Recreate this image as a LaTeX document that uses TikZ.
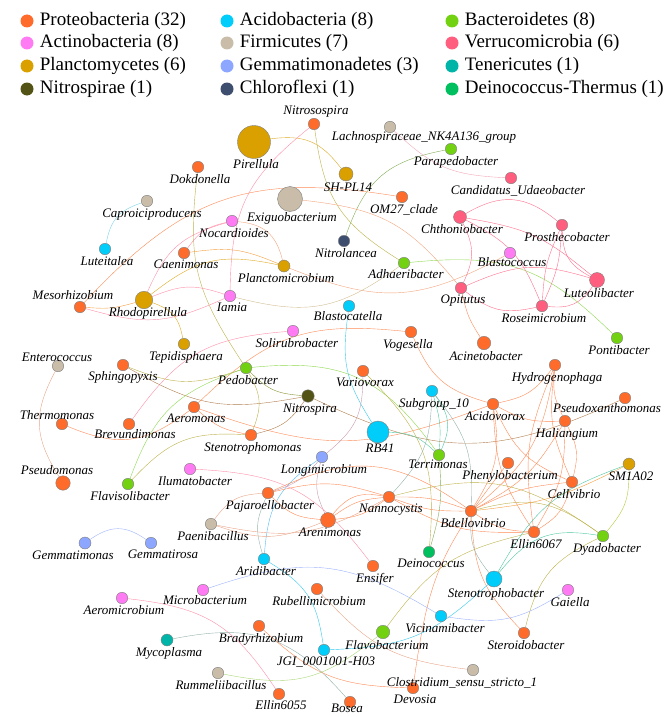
\documentclass[tikz,border=0pt]{standalone}
\usepackage{fontspec}
\setmainfont{Liberation Serif}
\usetikzlibrary{positioning,backgrounds}

% phylum colours
\definecolor{cPro}{HTML}{FF6B2B}
\definecolor{cAct}{HTML}{FF7BF3}
\definecolor{cPla}{HTML}{D9A000}
\definecolor{cNit}{HTML}{535316}
\definecolor{cAci}{HTML}{00CDFA}
\definecolor{cFir}{HTML}{C9BCA8}
\definecolor{cGem}{HTML}{8DA6FF}
\definecolor{cChl}{HTML}{3E4E6E}
\definecolor{cBac}{HTML}{72D211}
\definecolor{cVer}{HTML}{FF5E7E}
\definecolor{cTen}{HTML}{00B5A8}
\definecolor{cDei}{HTML}{00BF5F}
% edge colours
\definecolor{eOr}{HTML}{FF8A55}
\definecolor{eOl}{HTML}{BDB24A}
\definecolor{eOlD}{HTML}{8C9338}
\definecolor{eGd}{HTML}{DDAA22}
\definecolor{eGr}{HTML}{8ED84E}
\definecolor{eGrD}{HTML}{80AC55}
\definecolor{eGrL}{HTML}{A9D676}
\definecolor{eCy}{HTML}{33C8F0}
\definecolor{eCyF}{HTML}{7ED3E6}
\definecolor{eCyB}{HTML}{55BBF5}
\definecolor{eBr}{HTML}{B07D4E}
\definecolor{eTl}{HTML}{4CC8A0}
\definecolor{eGy}{HTML}{95B3AC}
\definecolor{eMv}{HTML}{C99AAD}
\definecolor{eTan}{HTML}{E9A589}
\definecolor{eLb}{HTML}{9DB2FF}
\definecolor{eSal}{HTML}{F3A57E}
\definecolor{eKh}{HTML}{D2BE92}
\definecolor{eOrG}{HTML}{F5A040}
\definecolor{ePkO}{HTML}{FF8FA8}
\definecolor{ePkL}{HTML}{F2A8B8}
\definecolor{eVe}{HTML}{FF6E8C}
\definecolor{eYg}{HTML}{B5C83A}

\begin{document}
\begin{tikzpicture}[x=1pt,y=-1pt]
  \tikzstyle{taxon}=[circle,draw=black!50,line width=0.4pt,inner sep=0pt,minimum size=11.5pt]
  \tikzstyle{lbl}=[font=\fontsize{13}{14}\selectfont\itshape,inner sep=1pt,xshift=2pt]
  \tikzstyle{legdot}=[circle,inner sep=0pt,minimum size=13pt]
  \tikzstyle{legtxt}=[font=\fontsize{19}{21}\selectfont,inner sep=1pt]
  \tikzstyle{link}=[line width=0.75pt,looseness=1.15]

  \useasboundingbox (0,0) rectangle (666,717);

  % legend
  \node[legdot,fill=cPro] (legPro) at (27,21) {};
  \node[legtxt,right=5pt of legPro] (legProT) {Proteobacteria (32)};
  \node[legdot,fill=cAct] (legAct) at (27,43) {};
  \node[legtxt,right=5pt of legAct] (legActT) {Actinobacteria (8)};
  \node[legdot,fill=cPla] (legPla) at (27,66) {};
  \node[legtxt,right=5pt of legPla] (legPlaT) {Planctomycetes (6)};
  \node[legdot,fill=cNit] (legNit) at (27,89) {};
  \node[legtxt,right=5pt of legNit] (legNitT) {Nitrospirae (1)};
  \node[legdot,fill=cAci] (legAci) at (227,21) {};
  \node[legtxt,right=5pt of legAci] (legAciT) {Acidobacteria (8)};
  \node[legdot,fill=cFir] (legFir) at (227,43) {};
  \node[legtxt,right=5pt of legFir] (legFirT) {Firmicutes (7)};
  \node[legdot,fill=cGem] (legGem) at (227,66) {};
  \node[legtxt,right=5pt of legGem] (legGemT) {Gemmatimonadetes (3)};
  \node[legdot,fill=cChl] (legChl) at (227,89) {};
  \node[legtxt,right=5pt of legChl] (legChlT) {Chloroflexi (1)};
  \node[legdot,fill=cBac] (legBac) at (452,21) {};
  \node[legtxt,right=5pt of legBac] (legBacT) {Bacteroidetes (8)};
  \node[legdot,fill=cVer] (legVer) at (452,43) {};
  \node[legtxt,right=5pt of legVer] (legVerT) {Verrucomicrobia (6)};
  \node[legdot,fill=cTen] (legTen) at (452,66) {};
  \node[legtxt,right=5pt of legTen] (legTenT) {Tenericutes (1)};
  \node[legdot,fill=cDei] (legDei) at (452,89) {};
  \node[legtxt,right=5pt of legDei] (legDeiT) {Deinococcus-Thermus (1)};

  % Proteobacteria
  \node[taxon,fill=cPro,label={[lbl]below:Dokdonella}] (Dok) at (198,167) {};
  \node[taxon,fill=cPro,label={[lbl]below:Caenimonas}] (Caen) at (184,253) {};
  \node[taxon,fill=cPro,label={[lbl,xshift=-9pt]above:Mesorhizobium}] (Meso) at (80,307) {};
  \node[taxon,fill=cPro,label={[lbl]above:Nitrosospira}] (Nitroso) at (314,124) {};
  \node[taxon,fill=cPro,label={[lbl]below:OM27\_clade}] (OM27) at (402,197) {};
  \node[taxon,fill=cPro,minimum size=13.5pt,label={[lbl]below:Acinetobacter}] (Acin) at (484,343) {};
  \node[taxon,fill=cPro,label={[lbl]below:Hydrogenophaga}] (Hydro) at (555,365) {};
  \node[taxon,fill=cPro,label={[lbl]below:Acidovorax}] (Acid) at (493,404) {};
  \node[taxon,fill=cPro,label={[lbl,xshift=-20pt,yshift=2pt]below:Pseudoxanthomonas}] (Pseudox) at (625,398) {};
  \node[taxon,fill=cPro,label={[lbl]below:Haliangium}] (Hal) at (565,421) {};
  \node[taxon,fill=cPro,label={[lbl]below:Phenylobacterium}] (Phen) at (508,463) {};
  \node[taxon,fill=cPro,label={[lbl]below:Cellvibrio}] (Cell) at (572,482) {};
  \node[taxon,fill=cPro,label={[lbl,xshift=-5pt]below:Vogesella}] (Voges) at (411,332) {};
  \node[taxon,fill=cPro,label={[lbl]below:Variovorax}] (Vario) at (363,371) {};
  \node[taxon,fill=cPro,label={[lbl]below:Stenotrophomonas}] (StenoM) at (251,435) {};
  \node[taxon,fill=cPro,label={[lbl]below:Pajaroellobacter}] (Paja) at (268,493) {};
  \node[taxon,fill=cPro,label={[lbl]below:Nannocystis}] (Nanno) at (389,497) {};
  \node[taxon,fill=cPro,label={[lbl,xshift=-2pt,yshift=1pt]below:Sphingopyxis}] (Sphing) at (123,365) {};
  \node[taxon,fill=cPro,label={[lbl]below:Aeromonas}] (Aero) at (194,407) {};
  \node[taxon,fill=cPro,label={[lbl,xshift=-7pt,yshift=-3pt]above:Thermomonas}] (Thermo) at (62,424) {};
  \node[taxon,fill=cPro,label={[lbl,xshift=4pt,yshift=2pt]below:Brevundimonas}] (Brev) at (129,424) {};
  \node[taxon,fill=cPro,minimum size=14.5pt,label={[lbl,xshift=-8pt]above:Pseudomonas}] (Pseudom) at (63,483) {};
  \node[taxon,fill=cPro,minimum size=15pt,label={[lbl,yshift=1pt]below:Arenimonas}] (Aren) at (328,520) {};
  \node[taxon,fill=cPro,label={[lbl]below:Ensifer}] (Ensif) at (373,566) {};
  \node[taxon,fill=cPro,label={[lbl]below:Rubellimicrobium}] (Rubel) at (317,589) {};
  \node[taxon,fill=cPro,label={[lbl]below:Bradyrhizobium}] (Brady) at (259,626) {};
  \node[taxon,fill=cPro,label={[lbl,yshift=1pt]below:Ellin6055}] (E55) at (279,694) {};
  \node[taxon,fill=cPro,label={[lbl,xshift=-5pt,yshift=5pt]below:Bosea}] (Bosea) at (350,702) {};
  \node[taxon,fill=cPro,label={[lbl]below:Devosia}] (Devo) at (413,688) {};
  \node[taxon,fill=cPro,label={[lbl]below:Bdellovibrio}] (Bdel) at (471,511) {};
  \node[taxon,fill=cPro,label={[lbl]below:Ellin6067}] (E67) at (534,532) {};
  \node[taxon,fill=cPro,label={[lbl]below:Steroidobacter}] (Ster) at (524,633) {};

  % Actinobacteria
  \node[taxon,fill=cAct,label={[lbl]below:Nocardioides}] (Nocar) at (232,221) {};
  \node[taxon,fill=cAct,label={[lbl]below:Iamia}] (Iamia) at (230,296) {};
  \node[taxon,fill=cAct,label={[lbl,yshift=3pt]below:Blastococcus}] (Blastoc) at (510,253) {};
  \node[taxon,fill=cAct,label={[lbl,xshift=2pt]below:Solirubrobacter}] (Soli) at (293,331) {};
  \node[taxon,fill=cAct,label={[lbl,xshift=3pt]below:Ilumatobacter}] (Ilum) at (190,469) {};
  \node[taxon,fill=cAct,label={[lbl,yshift=2pt]below:Microbacterium}] (Micro) at (203,590) {};
  \node[taxon,fill=cAct,label={[lbl]below:Aeromicrobium}] (Aeromi) at (122,598) {};
  \node[taxon,fill=cAct,label={[lbl]below:Gaiella}] (Gaiel) at (568,590) {};

  % Planctomycetes
  \node[taxon,fill=cPla,minimum size=33pt,label={[lbl]below:Pirellula}] (Pir) at (254,142) {};
  \node[taxon,fill=cPla,minimum size=14pt,label={[lbl]below:SH-PL14}] (SHP) at (346,174) {};
  \node[taxon,fill=cPla,minimum size=17.5pt,label={[lbl,xshift=2pt,yshift=3pt]below:Rhodopirellula}] (Rhodo) at (144,300) {};
  \node[taxon,fill=cPla,minimum size=12pt,label={[lbl]below:Planctomicrobium}] (Planc) at (284,266) {};
  \node[taxon,fill=cPla,label={[lbl]below:Tepidisphaera}] (Tepid) at (184,344) {};
  \node[taxon,fill=cPla,minimum size=12pt,label={[lbl]below:SM1A02}] (SM1) at (629,464) {};

  % Nitrospirae
  \node[taxon,fill=cNit,minimum size=12.5pt,label={[lbl]below:Nitrospira}] (Nitrosp) at (308,396) {};

  % Acidobacteria
  \node[taxon,fill=cAci,label={[lbl]below:Luteitalea}] (Lut) at (105,249) {};
  \node[taxon,fill=cAci,label={[lbl,xshift=-3pt,yshift=2pt]below:Blastocatella}] (Blastoca) at (349,306) {};
  \node[taxon,fill=cAci,label={[lbl]below:Subgroup\_10}] (Sub) at (432,391) {};
  \node[taxon,fill=cAci,minimum size=22pt,label={[lbl]below:RB41}] (RB) at (378,432) {};
  \node[taxon,fill=cAci,label={[lbl]below:Aridibacter}] (Arid) at (264,559) {};
  \node[taxon,fill=cAci,label={[lbl]below:JGI\_0001001-H03}] (JGI) at (324,650) {};
  \node[taxon,fill=cAci,label={[lbl,xshift=2pt]below:Vicinamibacter}] (Vicin) at (441,616) {};
  \node[taxon,fill=cAci,minimum size=16pt,label={[lbl]below:Stenotrophobacter}] (StenoB) at (494,579) {};

  % Firmicutes
  \node[taxon,fill=cFir,label={[lbl,xshift=3pt]below:Caproiciproducens}] (Capro) at (147,201) {};
  \node[taxon,fill=cFir,label={[lbl,xshift=32pt,yshift=3pt]below:Lachnospiraceae\_NK4A136\_group}] (Lachno) at (390,127) {};
  \node[taxon,fill=cFir,minimum size=25pt,label={[lbl]below:Exiguobacterium}] (Exig) at (290,199) {};
  \node[taxon,fill=cFir,label={[lbl,xshift=-3pt,yshift=-3pt]above:Enterococcus}] (Entero) at (58,366) {};
  \node[taxon,fill=cFir,label={[lbl]below:Paenibacillus}] (Paeni) at (211,524) {};
  \node[taxon,fill=cFir,label={[lbl,xshift=1pt]below:Rummeliibacillus}] (Rumm) at (218,673) {};
  \node[taxon,fill=cFir,label={[lbl,xshift=-13pt]below:Clostridium\_sensu\_stricto\_1}] (Clos) at (473,670) {};

  % Gemmatimonadetes
  \node[taxon,fill=cGem,minimum size=12pt,label={[lbl,xshift=-14pt]below:Gemmatimonas}] (Gmon) at (85,543) {};
  \node[taxon,fill=cGem,label={[lbl,xshift=10pt]below:Gemmatirosa}] (Grosa) at (151,543) {};
  \node[taxon,fill=cGem,label={[lbl]below:Longimicrobium}] (Longi) at (322,457) {};

  % Chloroflexi
  \node[taxon,fill=cChl,label={[lbl]below:Nitrolancea}] (Nitrol) at (344,241) {};

  % Bacteroidetes
  \node[taxon,fill=cBac,label={[lbl,xshift=3pt]below:Parapedobacter}] (Parap) at (451,149) {};
  \node[taxon,fill=cBac,label={[lbl,yshift=1pt]below:Adhaeribacter}] (Adh) at (404,263) {};
  \node[taxon,fill=cBac,label={[lbl]below:Pontibacter}] (Ponti) at (617,338) {};
  \node[taxon,fill=cBac,label={[lbl]below:Pedobacter}] (Ped) at (246,368) {};
  \node[taxon,fill=cBac,label={[lbl,xshift=-3pt,yshift=2pt]below:Terrimonas}] (Terri) at (439,455) {};
  \node[taxon,fill=cBac,label={[lbl]below:Flavisolibacter}] (Flavi) at (128,484) {};
  \node[taxon,fill=cBac,minimum size=13.5pt,label={[lbl,xshift=2pt]below:Flavobacterium}] (Flavo) at (383,632) {};
  \node[taxon,fill=cBac,label={[lbl,xshift=2pt]below:Dyadobacter}] (Dyad) at (603,536) {};

  % Verrucomicrobia
  \node[taxon,fill=cVer,minimum size=13pt,label={[lbl]below:Chthoniobacter}] (Chth) at (460,217) {};
  \node[taxon,fill=cVer,label={[lbl,xshift=3pt]below:Prosthecobacter}] (Prost) at (562,225) {};
  \node[taxon,fill=cVer,label={[lbl,xshift=5pt]below:Candidatus\_Udaeobacter}] (Cand) at (511,178) {};
  \node[taxon,fill=cVer,label={[lbl]below:Opitutus}] (Opit) at (461,288) {};
  \node[taxon,fill=cVer,minimum size=15pt,label={[lbl]below:Luteolibacter}] (Luteo) at (597,280) {};
  \node[taxon,fill=cVer,label={[lbl]below:Roseimicrobium}] (Rosei) at (542,306) {};

  % Tenericutes, Deinococcus-Thermus
  \node[taxon,fill=cTen,minimum size=12pt,label={[lbl]below:Mycoplasma}] (Myco) at (167,640) {};
  \node[taxon,fill=cDei,label={[lbl]below:Deinococcus}] (Deino) at (429,552) {};

  % co-occurrence links
  \begin{scope}[on background layer,link]
    \draw[eCyF] (Lut) to[bend left=30] (Capro);
    \draw[eOl] (Dok) to[bend right=20] (Ped);
    \draw[eGd] (Pir) to[bend left=30] (SHP);
    \draw[ePkO] (Nitroso) to[bend right=25] (Iamia);
    \draw[eOl] (Nitroso) to[bend right=25] (Adh);
    \draw[eGrD] (Nitrol) to[bend left=30] (Parap);
    \draw[ePkL] (Lachno) to[bend right=20] (Cand);
    \draw[eOr] (Meso) to[bend left=28] (OM27);
    \draw[eSal] (Exig) to[bend left=22] (Opit);
    \draw[eSal] (Planc) to[bend right=25] (Blastoc);
    \draw[eSal] (Nocar) to[bend left=35] (Planc);
    \draw[eOrG] (Caen) to[bend left=15] (Planc);
    \draw[eGd] (Rhodo) to[bend left=25] (Planc);
    \draw[eKh] (Iamia) to[bend right=25] (Adh);
    \draw[eGr] (Adh) to[bend left=25] (Ponti);
    % Verrucomicrobia cluster
    \draw[eVe] (Chth) to[bend left=35] (Prost);
    \draw[eVe] (Chth) to[bend left=15] (Luteo);
    \draw[eVe] (Chth) to[bend left=25] (Opit);
    \draw[eVe] (Chth) to[bend left=20] (Rosei);
    \draw[eVe] (Prost) to[bend right=30] (Luteo);
    \draw[eVe] (Prost) to[bend left=10] (Rosei);
    \draw[eVe] (Prost) to[bend right=10] (Rosei);
    \draw[eVe] (Opit) to[bend left=20] (Luteo);
    \draw[eVe] (Opit) to[bend right=25] (Rosei);
    \draw[eVe] (Rosei) to[bend right=30] (Luteo);
    \draw[eOr] (Acin) to[bend left=10] (Opit);
    % left part
    \draw[ePkO] (Caen) to[bend left=20] (Nocar);
    \draw[ePkO] (Rhodo) to[bend left=25] (Nocar);
    \draw[ePkO] (Rhodo) to[bend left=20] (Iamia);
    \draw[ePkO] (Meso) to[bend right=20] (Iamia);
    \draw[eOrG] (Meso) to[bend right=10] (Rhodo);
    \draw[eGd] (Rhodo) to[bend left=30] (Tepid);
    \draw[eTan] (Entero) to[bend right=30] (Pseudom);
    \draw[eOr] (Thermo) to[bend right=30] (Aero);
    \draw[ePkO] (Brev) to[bend left=25] (Soli);
    \draw[eBr] (Sphing) to[bend right=20] (Nitrosp);
    \draw[eOl] (Sphing) to[bend right=20] (Ped);
    \draw[eOr] (Aero) to[bend left=25] (Voges);
    \draw[eOr] (Aero) to[bend right=20] (Acid);
    \draw[eOr] (Aero) to[bend right=15] (StenoM);
    \draw[eGr] (Ped) to[bend left=30] (Terri);
    \draw[eOlD] (Ped) to[bend right=20] (Nitrosp);
    \draw[eOl] (Ped) to[bend left=25] (StenoM);
    \draw[eGr] (Flavi) to[bend left=25] (Ped);
    \draw[eOl] (Flavi) to[bend left=25] (StenoM);
    \draw[eBr] (Nitrosp) to[bend left=20] (StenoM);
    \draw[eBr] (Nitrosp) to[bend right=25] (Pseudox);
    % middle part
    \draw[eCy] (Blastoca) to[bend right=20] (RB);
    \draw[eMv] (Vario) to[bend left=25] (Longi);
    \draw[eOl] (Vario) to[bend left=25] (Deino);
    \draw[eTl] (RB) to[bend left=20] (Terri);
    \draw[eTl] (Sub) to[bend left=30] (Terri);
    \draw[eTl] (Sub) to[bend left=10] (Terri);
    \draw[eGy] (Nanno) to[bend right=20] (Sub);
    \draw[eGy] (Sub) to[bend left=20] (Bdel);
    \draw[eCyB] (Longi) to[bend right=25] (Arid);
    \draw[eMv] (Longi) to[bend right=20] (Aren);
    \draw[eMv] (Longi) to[bend left=15] (Paja);
    \draw[eOr] (Paja) to[bend left=30] (Bdel);
    \draw[eOr] (Paja) to[bend right=20] (Aren);
    \draw[eOr] (Paja) to[bend left=15] (Nanno);
    \draw[eGy] (Arid) to[bend left=20] (Paja);
    \draw[eOr] (Aren) to[bend left=15] (Nanno);
    \draw[eOr] (Aren) to[bend right=15] (Nanno);
    \draw[eOr] (Aren) to[bend left=30] (Nanno);
    \draw[eTan] (Paeni) to[bend left=25] (Paja);
    \draw[eTan] (Paeni) to[bend right=20] (Aren);
    \draw[eTan] (Paeni) to[bend right=20] (Nanno);
    \draw[eOr] (Nanno) to[bend left=10] (Bdel);
    \draw[eOr] (Nanno) to[bend right=10] (Bdel);
    \draw[eOl] (Nanno) to[bend left=25] (Dyad);
    \draw[eOr] (Nanno) to[bend right=15] (E67);
    % right part
    \draw[eOr] (Bdel) to[bend right=20] (Acid);
    \draw[eOr] (Bdel) to[bend right=15] (E67);
    \draw[eOr] (Bdel) to[bend left=10] (Cell);
    \draw[eOr] (Bdel) to[bend right=15] (Hal);
    \draw[eOr] (Bdel) to[bend right=20] (Hydro);
    \draw[eOl] (Bdel) to[bend left=25] (Dyad);
    \draw[eOrG] (SM1) to[bend left=10] (Bdel);
    \draw[eOr] (Bdel) to[bend right=20] (Ster);
    \draw[eGy] (Bdel) to[bend right=20] (StenoB);
    \draw[eOr] (E67) to[bend left=15] (Acid);
    \draw[eOr] (E67) to[bend left=15] (Hydro);
    \draw[eOr] (E67) to[bend right=15] (Hal);
    \draw[eOr] (E67) to[bend right=20] (Cell);
    \draw[eOl] (Flavo) to[bend left=20] (E67);
    \draw[eOr] (Acid) to[bend right=20] (Hydro);
    \draw[eOr] (Acid) to[bend right=15] (Hal);
    \draw[eOr] (Acid) to[bend right=20] (Cell);
    \draw[eOr] (Voges) to[bend right=25] (Acid);
    \draw[eOr] (Hydro) to[bend right=15] (Hal);
    \draw[eOr] (Hydro) to[bend right=15] (Cell);
    \draw[eOr] (Hal) to[bend left=20] (Cell);
    \draw[eTl] (StenoB) to[bend left=20] (SM1);
    \draw[eYg] (SM1) to[bend left=20] (Dyad);
    \draw[eTl] (StenoB) to[bend left=30] (Dyad);
    \draw[eOl] (Dyad) to[bend right=25] (Ster);
    \draw[eGrD] (Terri) to[bend left=10] (Deino);
    \draw[eOr] (Phen) to[bend right=15] (Devo);
    % bottom part
    \draw[eCy] (Arid) to[bend left=25] (JGI);
    \draw[eCy] (JGI) to[bend right=20] (StenoB);
    \draw[eLb] (Micro) to[bend left=25] (Vicin);
    \draw[eLb] (Vicin) to[bend right=20] (Gaiel);
    \draw[ePkO] (Ilum) to[bend left=25] (Ensif);
    \draw[ePkO] (Aeromi) to[bend left=25] (E55);
    \draw[eGy] (Myco) to[bend left=30] (Bosea);
    \draw[eOr] (Brady) to[bend right=20] (Devo);
    \draw[eGrL] (Rumm) to[bend right=25] (Flavo);
    \draw[eTan] (Rubel) to[bend right=20] (Clos);
    \draw[eLb] (Gmon) to[bend left=35] (Grosa);
  \end{scope}
\end{tikzpicture}
\end{document}
